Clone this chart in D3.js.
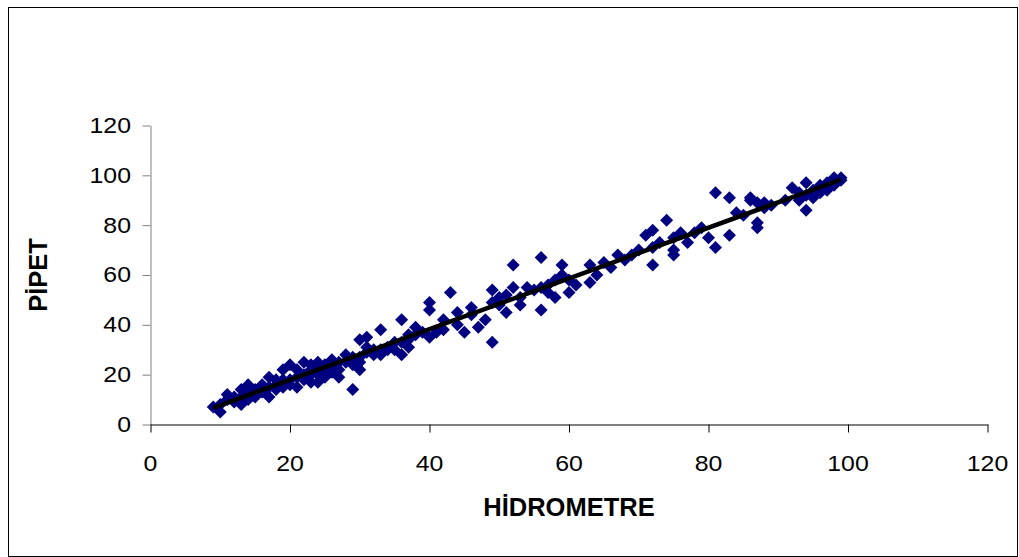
<!DOCTYPE html>
<html><head><meta charset="utf-8">
<script src="https://cdn.jsdelivr.net/npm/d3@7"></script>
<style>html,body{margin:0;padding:0;background:#fff;}svg{display:block;}</style>
</head><body>
<script>
const xTicks = [0, 20, 40, 60, 80, 100, 120];
const yTicks = [0, 20, 40, 60, 80, 100, 120];
const xTitle = "HİDROMETRE";
const yTitle = "PİPET";
const hidrometre = [9,10,10,11,11,12,13,13,14,14,14,15,15,16,17,17,17,18,18,19,19,20,20,20,21,21,22,22,22,23,23,24,24,24,25,25,26,26,27,27,28,28,29,29,30,30,30,31,31,32,33,33,33,34,35,35,36,36,37,37,38,38,40,40,40,41,42,43,44,44,45,46,47,48,49,49,49,50,51,51,52,52,53,54,55,56,56,56,57,58,58,59,59,60,61,63,63,64,66,67,69,71,72,72,72,74,75,75,75,76,77,79,80,81,81,83,83,84,86,87,87,87,88,92,93,94,94,95,96,97,98,99,95,97,
  12,13,15,16,18,19,21,23,23,24,25,26,27,29,30,31,32,34,36,37,39,42,46,50,53,57,60,65,68,70,73,78,85,89,91,93,96,98,
  95,96,97,98,99,94,86,88];
const pipet      = [7,5,8,12,10,9,8,11,16,13,10,11,14,13,19,11,15,18,16,22,15,24,18,16,15,19,25,20,18,22,17,25,20,17,22,19,26,23,19,22,28,25,14,24,34,22,27,35,29,30,38,30,28,31,33,30,42,28,31,34,39,36,49,46,35,37,38,53,45,40,37,47,39,42,33,54,49,48,45,52,64,55,48,55,54,67,46,55,53,58,51,64,60,53,56,64,57,60,63,68,68,76,78,64,71,82,75,68,70,77,73,79,75,93,71,91,76,85,91,89,81,79,87,95,90,97,86,91,95,94,99,98,93,96,
  11,14,13,16,14,18,22,20,24,22,24,21,25,27,25,31,28,30,33,36,37,42,44,51,51,56,58,65,66,70,73,77,84,88,90,93,96,97,
  94,93,97,96,99,92,90,89];

const W = 1019, H = 557;
const svg = d3.select("body").append("svg").attr("width", W).attr("height", H);

// outer frame
svg.append("rect").attr("x", 8.5).attr("y", 7.5).attr("width", 1009).attr("height", 549)
  .attr("fill", "#fff").attr("stroke", "#000").attr("stroke-width", 1);

const x = d3.scaleLinear().domain([0, 120]).range([150.5, 987.5]);
const y = d3.scaleLinear().domain([0, 120]).range([424.5, 125.5]);

// y axis
const gy = svg.append("g").attr("transform", `translate(${x(0)},0)`)
  .call(d3.axisLeft(y).tickValues(yTicks).tickSize(8).tickFormat("").tickSizeOuter(0));
gy.select(".domain").attr("stroke", "#808080");
gy.selectAll(".tick line").attr("stroke", "#808080");

// x axis
const gx = svg.append("g").attr("transform", `translate(0,${y(0)})`)
  .call(d3.axisBottom(x).tickValues(xTicks).tickSize(8).tickFormat("").tickSizeOuter(0));
gx.select(".domain").attr("stroke", "#000");
gx.selectAll(".tick line").attr("stroke", "#000");

// tick labels
const lblFont = "'Liberation Sans', Arial, sans-serif";
svg.append("g").selectAll("text").data(yTicks).join("text")
  .attr("transform", d => `translate(131,${y(d)}) scale(1.13,1)`)
  .attr("text-anchor", "end").attr("dominant-baseline", "central")
  .attr("font-family", lblFont).attr("font-size", 22).attr("fill", "#000")
  .text(d => d);
svg.append("g").selectAll("text").data(xTicks).join("text")
  .attr("transform", d => `translate(${x(d)},471) scale(1.13,1)`)
  .attr("text-anchor", "middle")
  .attr("font-family", lblFont).attr("font-size", 22).attr("fill", "#000")
  .text(d => d);

// axis titles
svg.append("text").attr("x", (x(0) + x(120)) / 2).attr("y", 516)
  .attr("text-anchor", "middle").attr("font-family", lblFont).attr("font-weight", "bold")
  .attr("font-size", 25.5).text(xTitle);
svg.append("text").attr("transform", `translate(47,${(y(0) + y(120)) / 2}) rotate(-90)`)
  .attr("text-anchor", "middle").attr("font-family", lblFont).attr("font-weight", "bold")
  .attr("font-size", 25.5).text(yTitle);

// points
const data = hidrometre.map((v, i) => ({ h: v, p: pipet[i] }));
const diamond = "M0,-6.5L6.5,0L0,6.5L-6.5,0Z";
svg.append("g").selectAll("path").data(data).join("path")
  .attr("d", diamond)
  .attr("transform", d => `translate(${x(d.h)},${y(d.p)})`)
  .attr("fill", "#000080");

// linear trend line (least squares)
const mx = d3.mean(data, d => d.h), my = d3.mean(data, d => d.p);
const slope = d3.sum(data, d => (d.h - mx) * (d.p - my)) / d3.sum(data, d => (d.h - mx) ** 2);
const icpt = my - slope * mx;
const [x0, x1] = d3.extent(data, d => d.h);
svg.append("line")
  .attr("x1", x(x0)).attr("y1", y(icpt + slope * x0))
  .attr("x2", x(x1)).attr("y2", y(icpt + slope * x1))
  .attr("stroke", "#000").attr("stroke-width", 4.5);
</script>
</body></html>
